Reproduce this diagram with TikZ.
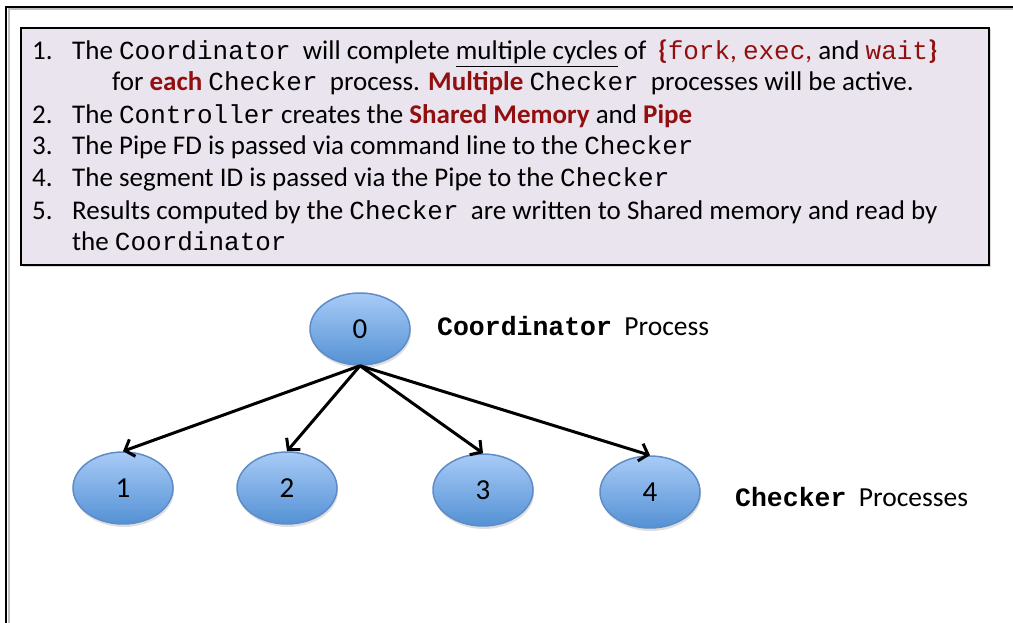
\documentclass[tikz,border=0pt]{standalone}
\usepackage{fontspec}
\setmainfont{Carlito}
\setmonofont[Scale=0.963]{Liberation Mono}
\usetikzlibrary{arrows.meta,shapes.geometric,shadows}
\definecolor{dred}{RGB}{145,15,15}
\definecolor{boxfill}{RGB}{233,228,238}
\definecolor{topblue}{RGB}{168,203,247}
\definecolor{botblue}{RGB}{84,145,212}
\definecolor{ellborder}{RGB}{95,140,198}
\newcommand{\rd}[1]{{\color{dred}#1}}
\newcommand{\dig}[1]{\fontsize{29}{29}\selectfont #1}
\tikzset{
  txt/.style={anchor=base west, inner sep=0pt, font=\fontsize{27}{32}\selectfont},
  proc/.style={ellipse, draw=ellborder, line width=1.5pt, top color=topblue, bottom color=botblue,
    minimum width=100pt, minimum height=72pt, inner sep=0pt,
    drop shadow={opacity=0.25, shadow xshift=1pt, shadow yshift=-3pt}},
  arr/.style={line width=3pt, -{Straight Barb[length=8pt,width=18pt]}},
  lbl/.style={anchor=base west, inner sep=0pt, font=\fontsize{27.5}{32}\selectfont}
}
\begin{document}
\begin{tikzpicture}[x=1pt,y=-1pt]
\useasboundingbox (0,0) rectangle (1013,623);
\begin{scope}
\clip (0,0) rectangle (1013,623);
\draw[gray!50, line width=2pt] (1030,9.5) -- (8.5,9.5) -- (8.5,640);
\draw[black, line width=2pt] (1030,7) -- (6,7) -- (6,640);
\end{scope}
\node[draw=black, line width=2pt, fill=boxfill, minimum width=968pt, minimum height=237pt, inner sep=0pt,
  drop shadow={opacity=0.3, shadow xshift=1.5pt, shadow yshift=-1.5pt}] (box) at (505,146.5) {};
% list
\node[txt] (n1) at (32,60) {1.};
\node[txt] (t1) at (72,60) {The \texttt{Coordinator}\ \ will complete \underline{multiple cycles} of \ \rd{\textbf{\{}\texttt{fork},} \rd{\texttt{exec},} and \rd{\texttt{wait}\textbf{\}}}};
\node[txt] (t1b) at (112,91) {for \rd{\textbf{each}} \texttt{Checker}\ \ process. \rd{\textbf{Multiple}} \texttt{Checker}\ \ processes will be active.};
\node[txt] (n2) at (32,124) {2.};
\node[txt] (t2) at (72,124) {The \texttt{Controller} creates the \rd{\textbf{Shared Memory}} and \rd{\textbf{Pipe}}};
\node[txt] (n3) at (32,155) {3.};
\node[txt] (t3) at (72,155) {The Pipe FD is passed via command line to the \texttt{Checker}};
\node[txt] (n4) at (32,187) {4.};
\node[txt] (t4) at (72,187) {The segment ID is passed via the Pipe to the \texttt{Checker}};
\node[txt] (n5) at (32,219) {5.};
\node[txt] (t5) at (72,219) {Results computed by the \texttt{Checker}\ \ are written to Shared memory and read by};
\node[txt] (t5b) at (72,251) {the \texttt{Coordinator}};
% tree
\node[proc] (p0) at (360,329) {\dig{0}};
\node[proc] (p1) at (123,488) {\dig{1}};
\node[proc] (p2) at (287,488) {\dig{2}};
\node[proc] (p3) at (483,490) {\dig{3}};
\node[proc] (p4) at (650,492) {\dig{4}};
\draw[arr] (p0.south) -- (p1.north);
\draw[arr] (p0.south) -- (p2.north);
\draw[arr] (p0.south) -- (p3.north);
\draw[arr] (p0.south) -- (p4.north);
\node[lbl] (lc) at (437,335) {\texttt{\bfseries Coordinator}\ \ Process};
\node[lbl] (lk) at (735,506) {\texttt{\bfseries Checker}\ \ Processes};
\end{tikzpicture}
\end{document}
